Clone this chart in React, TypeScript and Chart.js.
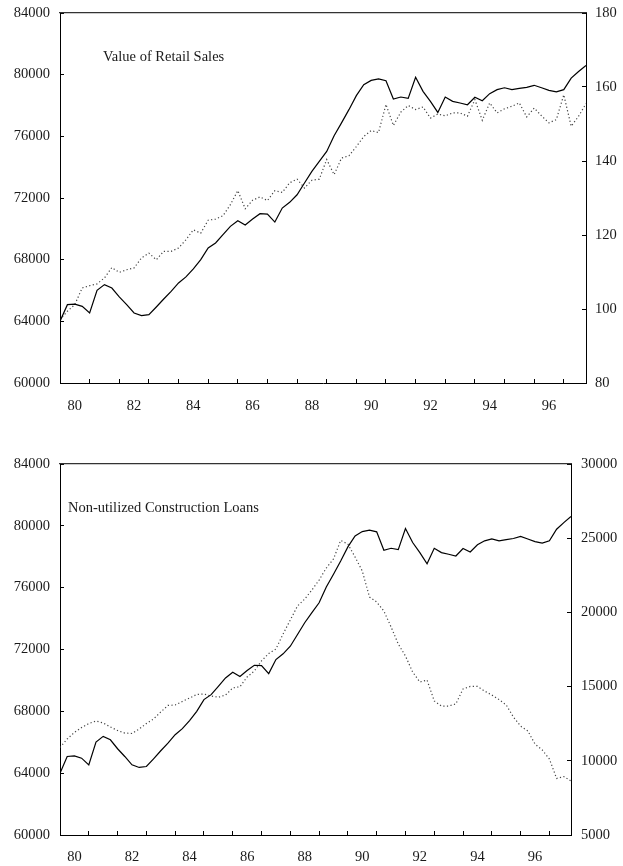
import React, { useEffect, useRef } from "react";
import { Chart, registerables } from "chart.js";

Chart.register(...registerables);

// Quarterly observations, 1980 Q1 through 1997 Q4
const FIRST_YEAR = 1980;
const LAST_POSITION = 1997.75;

// Left-axis series (solid line), shared by both panels
const leftAxisSeries = [
  64000, 65080, 65120, 64970, 64540, 66010, 66380, 66160,
  65580, 65080, 64540, 64370, 64430, 64930, 65450, 65940,
  66490, 66880, 67400, 68000, 68760, 69080, 69620, 70160,
  70530, 70250, 70640, 70980, 70960, 70440, 71350, 71720,
  72210, 72970, 73730, 74380, 75020, 76040, 76870, 77730,
  78640, 79350, 79630, 79720, 79610, 78420, 78550, 78460,
  79830, 78920, 78270, 77550, 78550, 78270, 78160, 78050,
  78530, 78310, 78770, 79030, 79150, 79030, 79110, 79180,
  79310, 79150, 78980, 78880, 79030, 79780, 80210, 80600,
];

// Value of retail sales (dotted line, right axis of the upper panel)
const retailSales = [
  97.1, 99.4, 101.2, 105.7, 106.3, 106.8, 108.4, 111.2,
  109.9, 110.6, 111.1, 113.8, 115.1, 113.3, 115.6, 115.6,
  116.5, 118.7, 121.4, 120.5, 124.0, 124.3, 125.2, 128.2,
  132.0, 127.1, 129.4, 130.3, 129.3, 132.0, 131.5, 134.1,
  135.1, 132.7, 134.8, 135.1, 140.4, 136.3, 140.8, 141.4,
  143.9, 146.6, 148.2, 147.7, 155.3, 149.6, 153.2, 155.0,
  153.9, 154.6, 151.6, 152.7, 152.2, 153.0, 153.0, 152.1,
  156.6, 151.0, 155.7, 153.0, 154.1, 154.8, 155.7, 151.9,
  154.3, 152.2, 150.3, 151.2, 157.9, 149.4, 152.1, 155.5,
];

// Non-utilized construction loans (dotted line, right axis of the lower panel)
const constructionLoans = [
  10900, 11470, 11910, 12240, 12510, 12680, 12550, 12280,
  12040, 11870, 11840, 12140, 12510, 12820, 13290, 13730,
  13760, 14000, 14230, 14470, 14500, 14370, 14280, 14430,
  14910, 14990, 15650, 16050, 16730, 17230, 17530, 18550,
  19490, 20430, 20900, 21510, 22180, 22990, 23600, 24850,
  24600, 23730, 22790, 21040, 20700, 20090, 19020, 17870,
  17060, 15980, 15310, 15440, 14030, 13690, 13690, 13830,
  14840, 15010, 15010, 14700, 14430, 14130, 13760, 12950,
  12340, 12010, 11130, 10730, 10120, 8810, 8940, 8640,
];

// Year boundaries carry tick marks; even years are labelled mid-year
const tickYears = [
  1981, 1982, 1983, 1984, 1985, 1986, 1987, 1988, 1989,
  1990, 1991, 1992, 1993, 1994, 1995, 1996, 1997,
];
const labelYears = [1980, 1982, 1984, 1986, 1988, 1990, 1992, 1994, 1996];

const leftAxisRange = { min: 60000, max: 84000, step: 4000 };
const retailAxisRange = { min: 80, max: 180, step: 20 };
const loansAxisRange = { min: 5000, max: 30000, step: 5000 };

const FONT_FAMILY = '"Liberation Serif", "Times New Roman", serif';
const FONT_SIZE = 14.5;
const TEXT_COLOR = "#1a1a1a";

const toPoints = (values: number[]) =>
  values.map((y, i) => ({ x: FIRST_YEAR + i / 4, y }));

// Label padding must not push the plot area inward
const clearScalePadding = (scale: any) => {
  scale.paddingTop = 0;
  scale.paddingBottom = 0;
  scale.paddingLeft = 0;
  scale.paddingRight = 0;
};

const panelCaption = {
  id: "panelCaption",
  afterDatasetsDraw(chart: any, _args: any, opts: any) {
    const { ctx, chartArea } = chart;
    ctx.save();
    ctx.font = `${FONT_SIZE}px ${FONT_FAMILY}`;
    ctx.fillStyle = TEXT_COLOR;
    ctx.textBaseline = "middle";
    ctx.textAlign = "left";
    ctx.fillText(opts.text, chartArea.left + opts.dx, chartArea.top + opts.dy);
    ctx.restore();
  },
};

interface PanelSpec {
  caption: string;
  captionDx: number;
  rightValues: number[];
  rightRange: { min: number; max: number; step: number };
  rightAxisWidth: number;
  rightLabelPadding: number;
  xAxisHeight: number;
  xLabelPadding: number;
  topPadding: number;
  height: number;
}

function buildConfig(spec: PanelSpec): any {
  const tickFont = { family: FONT_FAMILY, size: FONT_SIZE };
  const markColor = (c: any) =>
    c.tick && Number.isInteger(c.tick.value) ? "#000" : "rgba(0,0,0,0)";
  return {
    type: "line",
    data: {
      datasets: [
        {
          label: "left",
          data: toPoints(leftAxisSeries),
          yAxisID: "yLeft",
          borderColor: "#000",
          borderWidth: 1.2,
          pointRadius: 0,
          tension: 0,
          fill: false,
        },
        {
          label: "right",
          data: toPoints(spec.rightValues),
          yAxisID: "yRight",
          borderColor: "#444",
          borderWidth: 1.2,
          borderDash: [1.2, 2.4],
          pointRadius: 0,
          tension: 0,
          fill: false,
        },
      ],
    },
    options: {
      animation: false,
      responsive: false,
      events: [],
      layout: { padding: { top: spec.topPadding, left: 0, right: 0, bottom: 0 } },
      plugins: {
        legend: { display: false },
        tooltip: { enabled: false },
        title: { display: false },
        panelCaption: { text: spec.caption, dx: spec.captionDx, dy: 44 },
      },
      scales: {
        x: {
          type: "linear",
          position: "bottom",
          min: FIRST_YEAR,
          max: LAST_POSITION,
          afterBuildTicks: (scale: any) => {
            const values = [
              ...tickYears,
              ...labelYears.map((y) => y + 0.5),
            ].sort((a, b) => a - b);
            scale.ticks = values.map((value) => ({ value }));
          },
          afterFit: (scale: any) => {
            scale.height = spec.xAxisHeight;
            clearScalePadding(scale);
          },
          ticks: {
            autoSkip: false,
            maxRotation: 0,
            minRotation: 0,
            padding: spec.xLabelPadding,
            font: tickFont,
            color: TEXT_COLOR,
            callback: (value: number) =>
              labelYears.includes(value - 0.5) ? String(value - 0.5).slice(2) : "",
          },
          grid: {
            display: true,
            drawOnChartArea: false,
            drawTicks: true,
            tickLength: -4,
            color: markColor,
            tickColor: markColor,
            lineWidth: 1,
          },
          border: { display: true, color: "#000", width: 1 },
        },
        xTop: {
          type: "linear",
          position: "top",
          min: FIRST_YEAR,
          max: LAST_POSITION,
          afterFit: (scale: any) => {
            scale.height = 0;
            clearScalePadding(scale);
          },
          ticks: { display: false },
          grid: { display: false, drawTicks: false },
          border: { display: true, color: "#333", width: 1.2 },
        },
        yLeft: {
          type: "linear",
          position: "left",
          min: leftAxisRange.min,
          max: leftAxisRange.max,
          afterFit: (scale: any) => {
            scale.width = 60;
            clearScalePadding(scale);
          },
          ticks: {
            stepSize: leftAxisRange.step,
            padding: 14,
            font: tickFont,
            color: TEXT_COLOR,
            callback: (v: number) => String(v),
          },
          grid: {
            display: true,
            drawOnChartArea: false,
            drawTicks: true,
            tickLength: -4,
            color: "#000",
          },
          border: { display: true, color: "#000", width: 1 },
        },
        yRight: {
          type: "linear",
          position: "right",
          min: spec.rightRange.min,
          max: spec.rightRange.max,
          afterFit: (scale: any) => {
            scale.width = spec.rightAxisWidth;
            clearScalePadding(scale);
          },
          ticks: {
            stepSize: spec.rightRange.step,
            padding: spec.rightLabelPadding,
            font: tickFont,
            color: TEXT_COLOR,
            callback: (v: number) => String(v),
          },
          grid: {
            display: true,
            drawOnChartArea: false,
            drawTicks: true,
            tickLength: -4,
            color: "#000",
          },
          border: { display: true, color: "#000", width: 1 },
        },
      },
    },
    plugins: [panelCaption],
  };
}

const upperPanel: PanelSpec = {
  caption: "Value of Retail Sales",
  captionDx: 43,
  rightValues: retailSales,
  rightRange: retailAxisRange,
  rightAxisWidth: 37,
  rightLabelPadding: 13,
  xAxisHeight: 47,
  xLabelPadding: 18,
  topPadding: 13,
  height: 430,
};

const lowerPanel: PanelSpec = {
  caption: "Non-utilized Construction Loans",
  captionDx: 8,
  rightValues: constructionLoans,
  rightRange: loansAxisRange,
  rightAxisWidth: 52,
  rightLabelPadding: 14,
  xAxisHeight: 31,
  xLabelPadding: 17,
  topPadding: 34,
  height: 436,
};

export default function App() {
  const upperRef = useRef<HTMLCanvasElement | null>(null);
  const lowerRef = useRef<HTMLCanvasElement | null>(null);

  useEffect(() => {
    const charts: Chart[] = [];
    if (upperRef.current) charts.push(new Chart(upperRef.current, buildConfig(upperPanel)));
    if (lowerRef.current) charts.push(new Chart(lowerRef.current, buildConfig(lowerPanel)));
    return () => charts.forEach((c) => c.destroy());
  }, []);

  return (
    <div
      style={{
        position: "absolute",
        left: 0,
        top: 0,
        width: 623,
        height: 866,
        background: "#fff",
        overflow: "hidden",
      }}
    >
      <canvas
        ref={upperRef}
        width={623}
        height={upperPanel.height}
        style={{ position: "absolute", left: 0, top: 0, width: 623, height: upperPanel.height }}
      />
      <canvas
        ref={lowerRef}
        width={623}
        height={lowerPanel.height}
        style={{
          position: "absolute",
          left: 0,
          top: upperPanel.height,
          width: 623,
          height: lowerPanel.height,
        }}
      />
    </div>
  );
}
